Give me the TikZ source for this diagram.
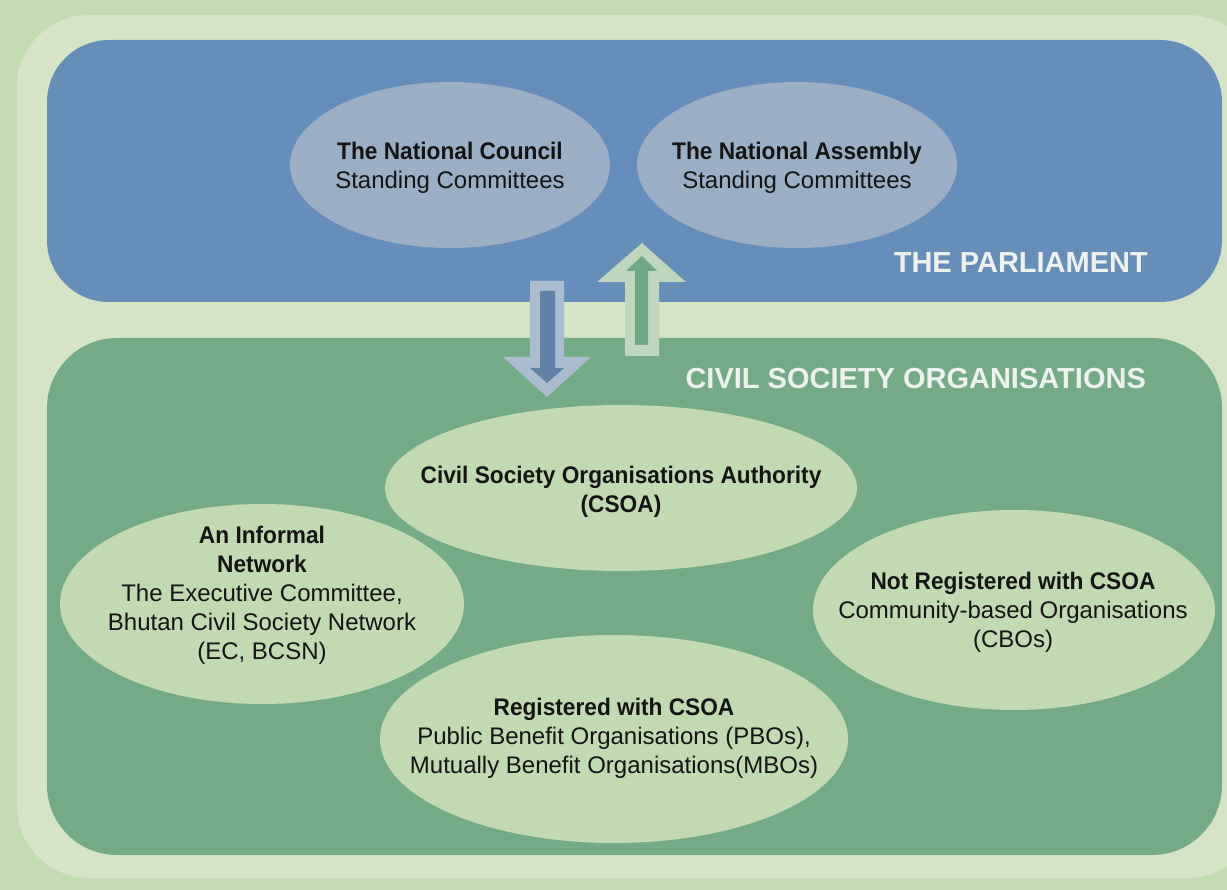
\documentclass[tikz,border=0pt]{standalone}
\usepackage{fontspec}
\setmainfont{Liberation Sans}[BoldFeatures={FakeStretch=0.945}]
\newfontfamily\headfont{Liberation Sans}
\usetikzlibrary{shapes.geometric}
\definecolor{bgout}{HTML}{C3DBB1}
\definecolor{bgframe}{HTML}{D4E4C5}
\definecolor{parl}{HTML}{658EBB}
\definecolor{cso}{HTML}{72AB85}
\definecolor{ellg}{HTML}{C2DAB1}
\definecolor{ellb}{HTML}{9AAFC6}
\definecolor{headc}{HTML}{EEF2EE}
\definecolor{arrbo}{HTML}{AABCD0}
\definecolor{arrbi}{HTML}{5F82A6}
\definecolor{arrgo}{HTML}{BDD6BC}
\definecolor{arrgi}{HTML}{6EA983}
\definecolor{txtc}{HTML}{141414}
\tikzset{
  ell/.style={ellipse, draw=none, inner sep=0pt},
  txt/.style={align=center, font=\fontsize{24}{29}\selectfont, text=txtc, inner sep=0pt},
  head/.style={anchor=east, font=\headfont\fontsize{29}{32}\selectfont\bfseries, text=headc, inner sep=0pt},
}
\begin{document}
\begin{tikzpicture}[x=1pt,y=-1pt]
\useasboundingbox (0,0) rectangle (1227,890);
\fill[bgout] (0,0) rectangle (1227,890);
\fill[bgframe, rounded corners=72pt] (17,15) rectangle (1260,878);
\fill[parl, rounded corners=62pt] (47,40) rectangle (1222,302);
\fill[cso, rounded corners=70pt] (47,338) rectangle (1222,855);

% parliament ellipses
\node[ell, fill=ellb, minimum width=320pt, minimum height=166pt] (nc) at (450,165) {};
\node[ell, fill=ellb, minimum width=320pt, minimum height=166pt] (na) at (797,165) {};
\node[txt] (nct) at (450,168) {\textbf{The National Council}\\Standing Committees};
\node[txt] (nat) at (797,168) {\textbf{The National Assembly}\\Standing Committees};
\node[head] (parlh) at (1148,263) {THE PARLIAMENT};

% CSO ellipses
\node[ell, fill=ellg, minimum width=472pt, minimum height=166pt] (csoa) at (621,488) {};
\node[ell, fill=ellg, minimum width=404pt, minimum height=200pt] (inf) at (262,604) {};
\node[ell, fill=ellg, minimum width=402pt, minimum height=200pt] (nreg) at (1014,610) {};
\node[ell, fill=ellg, minimum width=468pt, minimum height=208pt] (reg) at (614,739) {};
\node[txt] (csoat) at (621,492) {\textbf{Civil Society Organisations Authority}\\\textbf{(CSOA)}};
\node[txt] (inft) at (262,595) {\textbf{An Informal}\\\textbf{Network}\\The Executive Committee,\\Bhutan Civil Society Network\\(EC, BCSN)};
\node[txt] (nregt) at (1013,612) {\textbf{Not Registered with CSOA}\\Community-based Organisations\\(CBOs)};
\node[txt] (regt) at (614,738) {\textbf{Registered with CSOA}\\Public Benefit Organisations (PBOs),\\Mutually Benefit Organisations(MBOs)};
\node[head] (csoh) at (1146,379) {CIVIL SOCIETY ORGANISATIONS};

% block arrows
\fill[arrbo] (530,281) -- (564,281) -- (564,357) -- (591,357) -- (547,397) -- (503,357) -- (530,357) -- cycle;
\fill[arrbi] (540,291) -- (555,291) -- (555,368) -- (564,368) -- (547,383) -- (530,368) -- (540,368) -- cycle;
\fill[arrgo] (625,356) -- (659,356) -- (659,282) -- (686,282) -- (642,243) -- (597,282) -- (625,282) -- cycle;
\fill[arrgi] (635,345) -- (648,345) -- (648,271) -- (657,271) -- (642,256) -- (626,271) -- (635,271) -- cycle;
\end{tikzpicture}
\end{document}
